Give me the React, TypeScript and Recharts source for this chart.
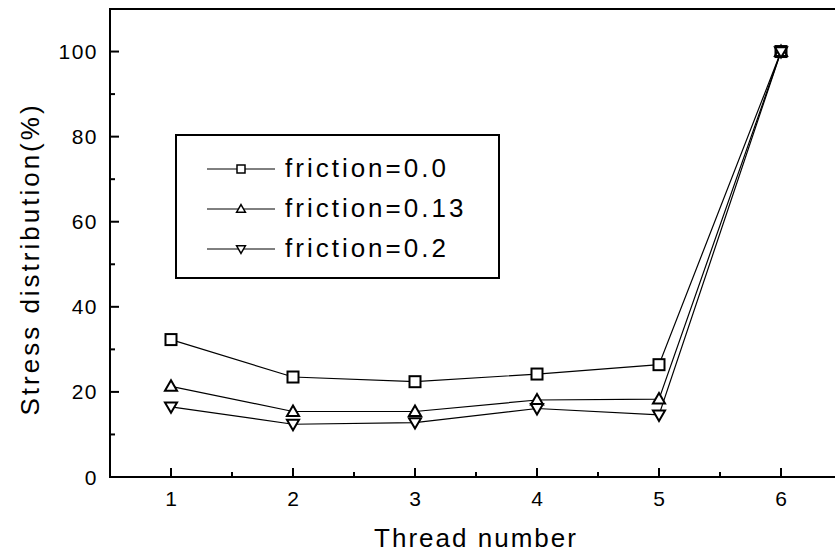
import React from 'react';
import { LineChart, Line, XAxis, YAxis, Legend, ReferenceArea } from 'recharts';

// thread positions and stress values
const threads = [1, 2, 3, 4, 5, 6];
const friction00 = [32.3, 23.5, 22.4, 24.2, 26.4, 100];
const friction013 = [21.3, 15.4, 15.4, 18.1, 18.3, 100];
const friction02 = [16.5, 12.4, 12.8, 16.1, 14.6, 100];

const xTicks = [1, 1.5, 2, 2.5, 3, 3.5, 4, 4.5, 5, 5.5, 6];
const yTicks = [0, 10, 20, 30, 40, 50, 60, 70, 80, 90, 100];

const FONT = '"Liberation Sans", Arial, Helvetica, sans-serif';

const data = threads.map((t, i) => ({
    thread: t,
    f00: friction00[i],
    f013: friction013[i],
    f02: friction02[i],
}));

type Shape = 'square' | 'up' | 'down';

const series: { key: string; name: string; shape: Shape }[] = [
    { key: 'f00', name: 'friction=0.0', shape: 'square' },
    { key: 'f013', name: 'friction=0.13', shape: 'up' },
    { key: 'f02', name: 'friction=0.2', shape: 'down' },
];

function Marker({ cx, cy, shape, size, sw }: { cx: number; cy: number; shape: Shape; size: number; sw: number }) {
    const h = size / 2;
    if (shape === 'square') {
        return <rect x={cx - h} y={cy - h} width={size} height={size} fill="#fff" stroke="#000" strokeWidth={sw} />;
    }
    const t = h * 1.1;
    const pts =
        shape === 'up'
            ? `${cx},${cy - t} ${cx + t},${cy + h * 0.8} ${cx - t},${cy + h * 0.8}`
            : `${cx},${cy + t} ${cx + t},${cy - h * 0.8} ${cx - t},${cy - h * 0.8}`;
    return <polygon points={pts} fill="#fff" stroke="#000" strokeWidth={sw} strokeLinejoin="miter" />;
}

const makeDot = (shape: Shape) => (props: any) => {
    const { cx, cy, index } = props;
    if (cx == null || cy == null) return <g key={`d-${shape}-${index}`} />;
    return (
        <g key={`d-${shape}-${index}`}>
            <Marker cx={cx} cy={cy} shape={shape} size={11} sw={2} />
        </g>
    );
};

const XTick = (props: any) => {
    const { x, y, payload } = props;
    const major = Number.isInteger(payload.value);
    return (
        <g>
            <line x1={x} x2={x} y1={y} y2={y - (major ? 9 : 5)} stroke="#000" strokeWidth={2} />
            {major && (
                <text x={x} y={y + 29} textAnchor="middle" fontSize={21} fontFamily={FONT} fill="#000">
                    {payload.value}
                </text>
            )}
        </g>
    );
};

const YTick = (props: any) => {
    const { x, y, payload } = props;
    const major = payload.value % 20 === 0;
    return (
        <g>
            <line x1={x} x2={x + (major ? 9 : 5)} y1={y} y2={y} stroke="#000" strokeWidth={2} />
            {major && (
                <text x={x - 12} y={y + 7.5} textAnchor="end" fontSize={21} fontFamily={FONT} letterSpacing={1.5} fill="#000">
                    {payload.value}
                </text>
            )}
        </g>
    );
};

const renderLegend = () => (
    <div
        style={{
            boxSizing: 'border-box',
            width: 325,
            height: 145,
            border: '2px solid #000',
            background: '#fff',
            paddingTop: 12,
            fontFamily: FONT,
        }}
    >
        {series.map((s) => (
            <div key={s.key} style={{ height: 40, display: 'flex', alignItems: 'center' }}>
                <svg width={108} height={40} style={{ display: 'block' }}>
                    <line x1={30} x2={98} y1={21} y2={21} stroke="#000" strokeWidth={1} />
                    <Marker cx={64} cy={21} shape={s.shape} size={8} sw={1.5} />
                </svg>
                <span style={{ fontSize: 26, letterSpacing: 3, color: '#000' }}>{s.name}</span>
            </div>
        ))}
    </div>
);

export default function App() {
    return (
        <div style={{ position: 'absolute', left: 0, top: 0, width: 835, height: 557, overflow: 'hidden', background: '#fff' }}>
            <LineChart width={850} height={557} data={data} margin={{ top: 9, right: 8, left: 0, bottom: 0 }}>
                <ReferenceArea x1={0.5} x2={6.5} y1={0} y2={110} fill="none" fillOpacity={0} stroke="#000" strokeWidth={2} />
                <XAxis
                    type="number"
                    dataKey="thread"
                    domain={[0.5, 6.5]}
                    ticks={xTicks}
                    interval={0}
                    tickSize={0}
                    tickMargin={0}
                    tickLine={false}
                    tick={<XTick />}
                    height={80}
                    axisLine={{ stroke: '#000', strokeWidth: 2 }}
                    label={{
                        content: ({ viewBox }: any) => (
                            <text
                                x={viewBox.x + viewBox.width / 2}
                                y={viewBox.y + 70}
                                textAnchor="middle"
                                fontSize={26}
                                fontFamily={FONT}
                                letterSpacing={2}
                                fill="#000"
                            >
                                Thread number
                            </text>
                        ),
                    }}
                />
                <YAxis
                    type="number"
                    domain={[0, 110]}
                    ticks={yTicks}
                    interval={0}
                    tickSize={0}
                    tickMargin={0}
                    tickLine={false}
                    tick={<YTick />}
                    width={110}
                    axisLine={{ stroke: '#000', strokeWidth: 2 }}
                    label={{
                        content: ({ viewBox }: any) => {
                            const cx = viewBox.x + 30;
                            const cy = viewBox.y + viewBox.height / 2 + 16;
                            return (
                                <text
                                    x={cx}
                                    y={cy}
                                    transform={`rotate(-90 ${cx} ${cy})`}
                                    textAnchor="middle"
                                    dominantBaseline="central"
                                    fontSize={26}
                                    fontFamily={FONT}
                                    letterSpacing={3}
                                    fill="#000"
                                >
                                    Stress distribution(%)
                                </text>
                            );
                        },
                    }}
                />
                <Legend
                    layout="vertical"
                    align="center"
                    verticalAlign="middle"
                    content={renderLegend}
                    wrapperStyle={{ left: 175, top: 134, width: 325, height: 145 }}
                />
                {series.map((s) => (
                    <Line
                        key={s.key}
                        dataKey={s.key}
                        name={s.name}
                        stroke="#000"
                        strokeWidth={1.2}
                        dot={makeDot(s.shape)}
                        activeDot={false}
                        isAnimationActive={false}
                    />
                ))}
            </LineChart>
        </div>
    );
}
